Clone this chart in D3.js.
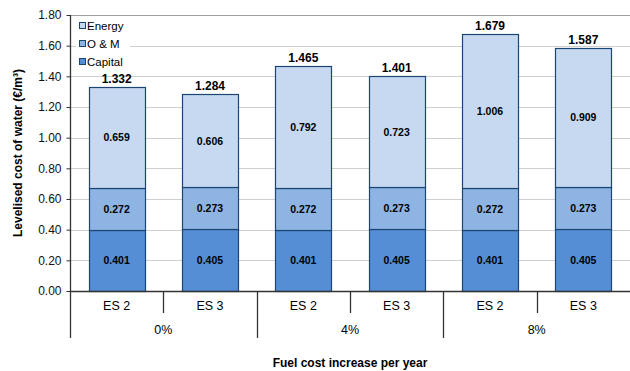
<!DOCTYPE html>
<html>
<head>
<meta charset="utf-8">
<script src="https://cdn.jsdelivr.net/npm/d3@7"></script>
<style>
  body { margin: 0; background: #fff; }
  text { font-family: "Liberation Sans", Arial, sans-serif; }
</style>
</head>
<body>
<div id="chart"></div>
<script>
// data
var scenarios = ["ES 2", "ES 3", "ES 2", "ES 3", "ES 2", "ES 3"];
var fuelIncrease = ["0%", "4%", "8%"];
var capital = [0.401, 0.405, 0.401, 0.405, 0.401, 0.405];
var om = [0.272, 0.273, 0.272, 0.273, 0.272, 0.273];
var energy = [0.659, 0.606, 0.792, 0.723, 1.006, 0.909];
var totals = ["1.332", "1.284", "1.465", "1.401", "1.679", "1.587"];
var seriesNames = ["Capital", "O & M", "Energy"];
var yTicks = [0, 0.2, 0.4, 0.6, 0.8, 1.0, 1.2, 1.4, 1.6, 1.8];

var width = 630, height = 371,
    margin = {top: 15, right: 0, bottom: 80, left: 70};

var colors = {"Capital": "#558ed5", "O & M": "#8eb4e3", "Energy": "#c6d9f1"};

var svg = d3.select("#chart").append("svg")
  .attr("width", width)
  .attr("height", height);

var rows = scenarios.map(function(s, i) {
  return {idx: i, "Capital": capital[i], "O & M": om[i], "Energy": energy[i]};
});

var x = d3.scaleBand()
  .domain(d3.range(scenarios.length))
  .range([margin.left, width - margin.right])
  .paddingInner(0.4)
  .paddingOuter(0.2);

var y = d3.scaleLinear()
  .domain([0, 1.8])
  .range([height - margin.bottom, margin.top]);

// gridlines
svg.append("g").selectAll("line")
  .data(yTicks.slice(1))
  .enter().append("line")
  .attr("x1", margin.left)
  .attr("x2", width - margin.right)
  .attr("y1", function(d){ return Math.round(y(d)) + 0.5; })
  .attr("y2", function(d){ return Math.round(y(d)) + 0.5; })
  .style("stroke", function(d){ return d === 1.8 ? "#a0a0a0" : "#cfcfcf"; })
  .style("stroke-width", 1);

// stacked bars
var stack = d3.stack().keys(seriesNames);
var layers = stack(rows);

var barG = svg.append("g");
layers.forEach(function(layer) {
  var key = layer.key;
  barG.selectAll(null)
    .data(layer)
    .enter().append("rect")
    .attr("x", function(d, i){ return Math.round(x(i)) + 0.5; })
    .attr("y", function(d){ return Math.round(y(d[1])) + 0.5; })
    .attr("width", Math.round(x.bandwidth()))
    .attr("height", function(d){ return Math.round(y(d[0])) - Math.round(y(d[1])); })
    .style("fill", colors[key])
    .style("stroke", "#1b4572")
    .style("stroke-width", 1.2);

  barG.selectAll(null)
    .data(layer)
    .enter().append("text")
    .attr("x", function(d, i){ return x(i) + x.bandwidth() / 2; })
    .attr("y", function(d){ return (y(d[0]) + y(d[1])) / 2 + 4; })
    .attr("text-anchor", "middle")
    .style("font-size", "10.5px")
    .style("font-weight", "bold")
    .style("fill", "#000")
    .text(function(d){ return d.data[key].toFixed(3); });
});

// totals above bars
svg.append("g").selectAll("text")
  .data(rows)
  .enter().append("text")
  .attr("x", function(d){ return x(d.idx) + x.bandwidth() / 2; })
  .attr("y", function(d){ return y(d.Capital + d["O & M"] + d.Energy) - 4; })
  .attr("text-anchor", "middle")
  .style("font-size", "12px")
  .style("font-weight", "bold")
  .text(function(d, i){ return totals[i]; });

// y axis
var yAxis = d3.axisLeft(y)
  .tickValues(yTicks)
  .tickSize(4)
  .tickFormat(d3.format(".2f"));

var yg = svg.append("g")
  .attr("transform", "translate(" + (margin.left + 0.5) + ",0)")
  .call(yAxis);
yg.select(".domain").remove();
yg.selectAll("line").style("stroke", "#333");
yg.selectAll("text")
  .attr("x", -9)
  .style("font-size", "12px")
  .style("font-family", "Liberation Sans, Arial, sans-serif")
  .style("fill", "#111");

var x0 = y(0);
// axis lines
svg.append("line")
  .attr("x1", margin.left + 0.5).attr("x2", margin.left + 0.5)
  .attr("y1", margin.top).attr("y2", x0 + 47)
  .style("stroke", "#333").style("stroke-width", 1.3);
svg.append("line")
  .attr("x1", margin.left).attr("x2", width)
  .attr("y1", Math.round(x0) + 0.5).attr("y2", Math.round(x0) + 0.5)
  .style("stroke", "#333").style("stroke-width", 1.3);

// category separators
d3.range(1, scenarios.length).forEach(function(i) {
  var xp = Math.round(margin.left + i * (width - margin.left - margin.right) / scenarios.length) + 0.5;
  svg.append("line")
    .attr("x1", xp).attr("x2", xp)
    .attr("y1", x0).attr("y2", x0 + (i % 2 === 0 ? 47 : 22))
    .style("stroke", "#333").style("stroke-width", 1.3);
});

// scenario labels
svg.append("g").selectAll("text")
  .data(scenarios)
  .enter().append("text")
  .attr("x", function(d, i){ return x(i) + x.bandwidth() / 2; })
  .attr("y", x0 + 19)
  .attr("text-anchor", "middle")
  .style("font-size", "12.5px")
  .text(function(d){ return d; });

// group labels
var groupW = (width - margin.left - margin.right) / fuelIncrease.length;
svg.append("g").selectAll("text")
  .data(fuelIncrease)
  .enter().append("text")
  .attr("x", function(d, i){ return margin.left + groupW * (i + 0.5); })
  .attr("y", x0 + 43)
  .attr("text-anchor", "middle")
  .style("font-size", "12.5px")
  .text(function(d){ return d; });

// axis titles
svg.append("text")
  .attr("x", (margin.left + width) / 2)
  .attr("y", 367)
  .attr("text-anchor", "middle")
  .style("font-size", "12px")
  .style("font-weight", "bold")
  .text("Fuel cost increase per year");

svg.append("text")
  .attr("transform", "translate(22," + ((margin.top + x0) / 2) + ") rotate(-90)")
  .attr("text-anchor", "middle")
  .style("font-size", "12px")
  .style("font-weight", "bold")
  .text("Levelised cost of water (€/m³)");

// legend
var legend = svg.append("g").attr("transform", "translate(76,18)");
legend.append("rect")
  .attr("width", 54).attr("height", 52)
  .style("fill", "#fff");
var legendItems = seriesNames.slice().reverse();
legendItems.forEach(function(name, i) {
  var g = legend.append("g").attr("transform", "translate(0," + (i * 18) + ")");
  g.append("rect")
    .attr("x", 3.5).attr("y", 4.5)
    .attr("width", 6).attr("height", 6)
    .style("fill", colors[name])
    .style("stroke", "#1b4572")
    .style("stroke-width", 1);
  g.append("text")
    .attr("x", 11).attr("y", 12)
    .style("font-size", "11.5px")
    .text(name);
});
</script>
</body>
</html>
